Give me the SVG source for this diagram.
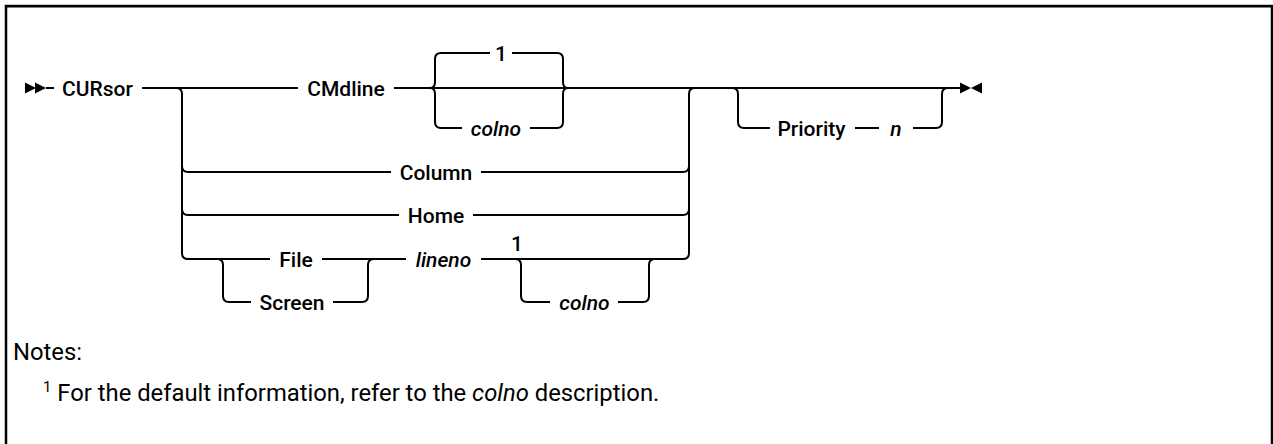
<svg xmlns="http://www.w3.org/2000/svg" width="1273" height="444" viewBox="0 0 1273 444">
<style>
.ln{fill:none;stroke:#000;stroke-width:2;stroke-linecap:butt;stroke-linejoin:round}
.t{font-family:Roboto,"Liberation Sans",sans-serif;font-size:21px;font-weight:500;fill:#000;text-anchor:middle}
.i{font-style:italic}
.s{text-anchor:start}
.n{font-family:Roboto,"Liberation Sans",sans-serif;font-size:23.8px;font-weight:400;fill:#000}
</style>
<rect width="1273" height="444" fill="#fff"/>
<g id="frame">
<line x1="4" y1="4.5" x2="1273" y2="4.5" stroke="#c8c8c8" stroke-width="1"/>
<path d="M6,444 V6.2 H1272 V444" fill="none" stroke="#000" stroke-width="2.5"/>
</g>
<g id="connectors">
<polygon points="25,82.5 36,88 25,93.5"/>
<polygon points="35,82.5 46,88 35,93.5"/>
<path class="ln" d="M46,88 H54"/>
<path class="ln" d="M142,88 H298"/>
<path class="ln" d="M394,88 H960"/>
<polygon points="960,82.5 971,88 960,93.5"/>
<polygon points="982,82.5 971,88 982,93.5"/>
<path class="ln" d="M430,88 Q435,88 435,82 V59 Q435,53 441,53 H490"/>
<path class="ln" d="M430,88 Q435,88 435,94 V122 Q435,128 441,128 H462"/>
<path class="ln" d="M512,53 H557 Q563,53 563,59 V82 Q563,88 568,88"/>
<path class="ln" d="M530,128 H557 Q563,128 563,122 V94 Q563,88 568,88"/>
<path class="ln" d="M176,88 Q182,88 182,94 V253 Q182,259 188,259 H270"/>
<path class="ln" d="M182,166 Q182,172 188,172 H391"/>
<path class="ln" d="M182,209 Q182,215 188,215 H399"/>
<path class="ln" d="M481,172 H683 Q689,172 689,166"/>
<path class="ln" d="M473,215 H683 Q689,215 689,209"/>
<path class="ln" d="M689,253 V94 Q689,88 695,88"/>
<path class="ln" d="M322,259 H406"/>
<path class="ln" d="M481,259 H683 Q689,259 689,253"/>
<path class="ln" d="M217,259 Q223,259 223,265 V296 Q223,302 229,302 H251"/>
<path class="ln" d="M333,302 H362 Q368,302 368,296 V265 Q368,259 374,259"/>
<path class="ln" d="M515,259 Q521,259 521,265 V296 Q521,302 527,302 H550"/>
<path class="ln" d="M618,302 H643 Q649,302 649,296 V265 Q649,259 655,259"/>
<path class="ln" d="M732,88 Q738,88 738,94 V122 Q738,128 744,128 H770"/>
<path class="ln" d="M855,128 H879"/>
<path class="ln" d="M913,128 H936 Q942,128 942,122 V94 Q942,88 948,88"/>
</g>
<g id="n-cursor"><text class="t s" x="62" y="95.5">CURsor</text></g>
<g id="n-cmdline"><text class="t" x="346" y="95.5">CMdline</text></g>
<g id="n-default1"><text class="t" x="501" y="60.5">1</text></g>
<g id="n-colno1"><text class="t i" x="496" y="135.5">colno</text></g>
<g id="n-column"><text class="t" x="436" y="179.5">Column</text></g>
<g id="n-home"><text class="t" x="436" y="222.5">Home</text></g>
<g id="n-file"><text class="t" x="296" y="266.5">File</text></g>
<g id="n-screen"><text class="t" x="292" y="309.5">Screen</text></g>
<g id="n-lineno"><text class="t i" x="443.5" y="266.5">lineno</text></g>
<g id="n-note1"><text class="t" x="517" y="250.5">1</text></g>
<g id="n-colno2"><text class="t i" x="584.5" y="309.5">colno</text></g>
<g id="n-priority"><text class="t" x="811.5" y="135.5">Priority</text></g>
<g id="n-n"><text class="t i" x="896" y="135.5">n</text></g>
<g id="notes">
<text class="n" x="13" y="360">Notes:</text>
<text class="n" x="43" y="401"><tspan font-size="15" dy="-9">1</tspan><tspan dy="9"> For the default information, refer to the </tspan><tspan font-style="italic">colno</tspan><tspan> description.</tspan></text>
</g>
</svg>
